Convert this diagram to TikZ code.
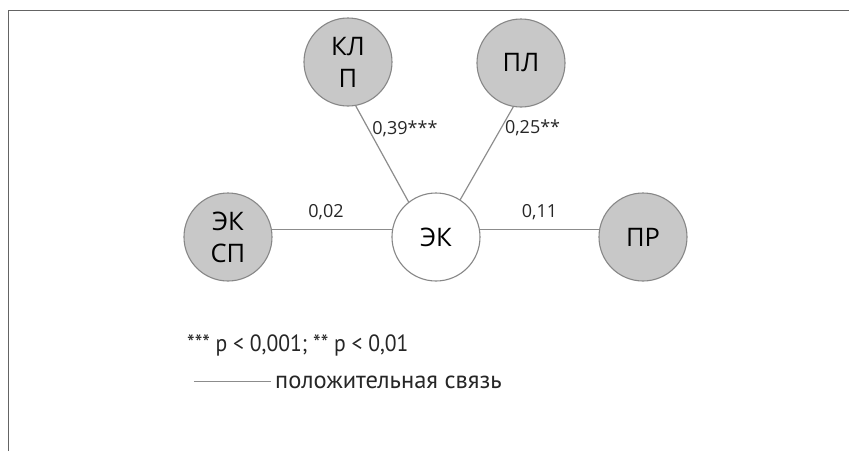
\documentclass[tikz,border=0pt]{standalone}
\usepackage{fontspec}
\setmainfont{Open Sans}
\newfontfamily\legfont[FakeStretch=0.92]{PT Sans}
\newfontfamily\legwide{PT Sans}
\usetikzlibrary{positioning}
\definecolor{circfill}{RGB}{200,200,200}
\definecolor{circline}{RGB}{135,135,135}
\definecolor{linkgray}{RGB}{140,140,140}
\definecolor{framegray}{RGB}{100,100,100}

\begin{document}
\begin{tikzpicture}[x=1pt, y=1pt,
    factor/.style={circle, draw=circline, line width=1.1pt, fill=circfill,
        minimum size=88pt, inner sep=0pt, align=center,
        font=\fontsize{25.5}{32}\selectfont},
    core/.style={factor, fill=white},
    link/.style={draw=linkgray, line width=1.2pt},
    coef/.style={font=\fontsize{18}{20}\selectfont, text=black!85},
    legend/.style={anchor=base west, inner ysep=0pt, inner xsep=4pt,
        font=\legfont\fontsize{23.5}{28}\selectfont, text=black!85}]
    \useasboundingbox (-436,-214) rectangle (413,237);
    \draw[framegray, line width=1.2pt] (-427.5,-214) -- (-427.5,226.5) -- (413,226.5);

    \node[core] (EK) at (0,0) {ЭК};
    \node[factor, on grid, left=208pt of EK] (EKSP) {ЭК\\СП};
    \node[factor, on grid, above left=175pt and 88pt of EK] (KLP) {КЛ\\П};
    \node[factor, on grid, above right=174pt and 85pt of EK] (PL) {ПЛ};
    \node[factor, on grid, right=207pt of EK] (PR) {ПР};

    \draw[link] (EKSP.10) -- node[coef, pos=0.45, above=6pt] {0,02} (EK.170);
    \draw[link] (EK.10) -- node[coef, above=6pt] {0,11} (PR.170);
    \draw[link] (KLP.-80) -- node[coef, pos=0.24, right] {0,39***} (EK.128);
    \draw[link] (PL.-100) -- node[coef, pos=0.23, right] {0,25**} (EK.57);

    \node[legend] (SIG) at (-253,-114) {*** p < 0,001; ** p < 0,01};
    \node[legend, font=\legwide\fontsize{24.5}{28}\selectfont] (LEG) at (-165,-151) {положительная связь};
    \coordinate[left=77pt of LEG.west] (LEGL);
    \draw[link] (LEGL) -- (LEG.west);
\end{tikzpicture}
\end{document}
